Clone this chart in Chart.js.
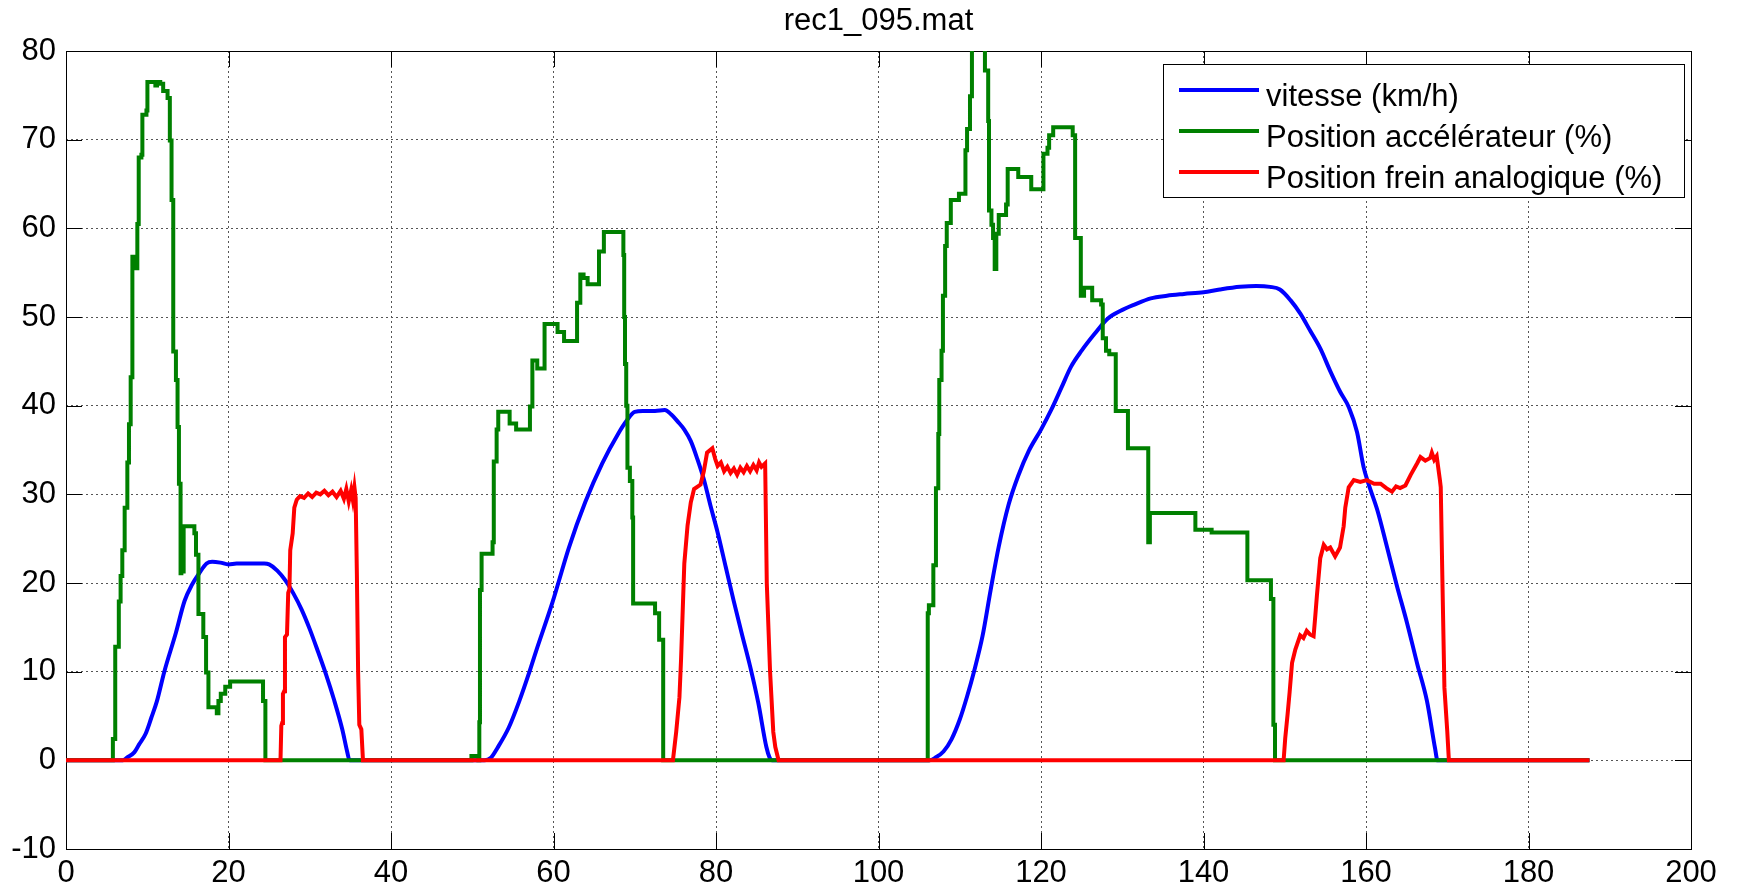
<!DOCTYPE html>
<html>
<head>
<meta charset="utf-8">
<title>rec1_095.mat</title>
<script src="https://cdn.jsdelivr.net/npm/chart.js@4.4.1/dist/chart.umd.min.js"></script>
<style>
  html, body { margin: 0; padding: 0; background: #fff; }
  canvas { display: block; }
</style>
</head>
<body>
<canvas id="chart" width="1737" height="892"></canvas>
<script>
// Chart text
const chartTitle = "rec1_095.mat";
const seriesLabels = ["vitesse (km/h)", "Position accélérateur (%)", "Position frein analogique (%)"];
const seriesColors = ["#0000ff", "#008000", "#ff0000"];

// Axis ticks
const xTicks = [0, 20, 40, 60, 80, 100, 120, 140, 160, 180, 200];
const yTicks = [-10, 0, 10, 20, 30, 40, 50, 60, 70, 80];

// vitesse (km/h)
const speedT = [0, 7, 7.5, 8.4, 9, 9.8, 10.5, 11.2, 12.1, 13.5, 14.6, 15.5, 16.4, 17.3, 18, 19, 20, 21, 22, 24.4,
  25, 26, 27, 28, 29, 30, 31, 32, 33, 34, 34.6, 34.9,
  51.5, 52.3, 53.1, 54.5, 55.8, 56.9, 57.85, 59.9, 61.9, 63.9, 66, 68, 69, 70, 71, 72.5, 73.7, 74.5, 75.3, 76.1,
  76.9, 77.7, 78.5, 79.3, 80.2, 81.2, 82.2, 83.2, 84.2, 85.2, 86.2, 86.6, 86.9,
  106.3, 107, 108, 109, 110, 110.9, 111.75, 112.8, 113.8, 114.8, 116, 117.2, 118.5, 120, 121.3, 122.5, 123.7,
  125, 126.6, 128.2, 129.8, 131.5, 133.5, 135.5, 137.6, 140, 142, 144.5, 146.5, 148.2, 149.4, 150.7, 151.9,
  153.1, 154.4, 155.6, 156.8, 157.9, 158.9, 159.7, 160.3, 161.4, 162.6, 163.8, 165.05, 166.3, 167.5, 168.5,
  168.8, 187.5];
const speedV = [0, 0, 0.3, 0.9, 1.8, 3, 4.8, 6.7, 10, 14.3, 18, 19.8, 21.1, 22.2, 22.4, 22.3, 22.1, 22.2, 22.2, 22.2,
  22.1, 21.4, 20.3, 18.8, 17, 14.8, 12.3, 9.7, 6.8, 3.5, 1, 0,
  0, 0.3, 1.4, 3.7, 6.7, 9.6, 12.3, 17.9, 24, 29.1, 33.5, 36.9, 38.3, 39.3, 39.4, 39.4, 39.5, 39, 38.2, 37.3,
  36, 34, 31.7, 28.8, 25.7, 21.8, 17.9, 14.2, 10.6, 6.5, 1.5, 0.3, 0,
  0, 0.3, 1, 2.4, 4.6, 7.2, 10, 14, 19.2, 24.1, 28.8, 32.1, 34.9, 37.3, 39.6, 42, 44.4,
  46.2, 48.1, 49.8, 50.7, 51.4, 52.1, 52.4, 52.6, 52.8, 53.1, 53.4, 53.5, 53.4, 53.1, 51.9, 50.4,
  48.5, 46.4, 43.9, 41.6, 39.8, 37, 33.1, 31.2, 28.2, 24, 19.7, 15.5, 10.9, 6.7, 1.35,
  0, 0];

// Position accélérateur (%) : time of each step and the value it steps to
const accelT = [0, 5.77, 6.06, 6.5, 6.72, 6.93, 7.22, 7.55, 7.75, 7.96, 8.17, 8.37, 8.78, 8.95, 9.28, 9.4, 9.9, 10.02,
  11, 11.2, 11.6, 11.96, 12.5, 12.78, 12.99, 13.2, 13.53, 13.73, 13.9, 14.1, 14.2, 14.3, 14.48, 15.8, 16, 16.3,
  16.9, 17.24, 17.53, 18.56, 18.76, 19.05, 19.6, 20.2, 24.25, 24.54,
  49.9, 50.75, 50.87, 50.95, 51.15, 52.5, 52.65, 53, 53.2, 54.6, 55.4, 57.1, 57.4, 58, 58.9, 60.5, 61.3, 62.9,
  63.3, 63.7, 64.2, 65.6, 66.2, 68.6, 68.7, 68.8, 68.95, 69.1, 69.4, 69.7, 69.8, 72.5, 73, 73.5,
  106.06, 106.2, 106.75, 107.07, 107.36, 107.48, 107.76, 107.93, 108.2, 108.4, 108.9, 109.9, 110.7, 110.9,
  111.26, 111.5, 113.1, 113.5, 113.6, 113.9, 114.1, 114.3, 114.5, 114.8, 115.7, 115.9, 117.2, 118.8, 120.3,
  120.8, 121, 121.5, 123.9, 124.2, 124.9, 125.3, 126.3, 127.4, 127.6, 128, 128.4, 129.2, 130.7, 133.2, 133.4,
  139, 141, 145.4, 148.3, 148.6, 148.8, 187.5];
const accelV = [0, 2.4, 12.8, 17.9, 20.8, 23.7, 28.5, 33.6, 37.9, 43.2, 56.8, 55.5, 60.5, 68, 68.3, 72.8, 73.3, 76.5,
  76.1, 76.5, 76.3, 75.5, 74.7, 69.9, 63.2, 46.1, 42.9, 37.6, 31.2, 21.1, 23.5, 21.3, 26.4, 25.6, 23.2, 16.5,
  13.9, 9.9, 6, 5.3, 6.7, 7.5, 8.3, 8.9, 6.7, 0,
  0.5, 0, 4.3, 19.2, 23.3, 24.6, 33.7, 37.3, 39.3, 38, 37.3, 39.9, 45.1, 44.2, 49.2, 48.3, 47.3, 51.6,
  54.8, 54.4, 53.7, 57.4, 59.6, 57, 50, 44.7, 40, 33, 31.5, 27.4, 17.7, 16.6, 13.6, 0,
  16.6, 17.5, 22, 30.7, 36.8, 42.9, 46.2, 52.4, 58, 60.6, 63.2, 63.9, 68.8, 71.2,
  74.9, 81, 77.8, 72.1, 62, 60.4, 58.9, 55.4, 59.4, 61.5, 62.7, 66.7, 65.8, 64.4, 68.4,
  69.1, 70.5, 71.4, 70.5, 58.9, 52.4, 53.3, 51.9, 51.4, 47.6, 46.2, 45.8, 39.4, 35.2, 24.6, 27.9,
  26, 25.7, 20.3, 18.2, 4, 0, 0];

// Position frein analogique (%)
const brakeT = [0, 26.4, 26.5, 26.6, 26.7, 26.85, 26.95, 27.2, 27.35, 27.5, 27.6, 27.9, 28.1, 28.4, 28.8, 29.3,
  29.8, 30.3, 30.8, 31.3, 31.8, 32.3, 32.8, 33.3, 33.8, 34.2, 34.5, 34.8, 35.1, 35.3, 35.5, 35.65, 35.8, 35.95,
  36.1, 36.35, 36.55,
  74.7, 75.1, 75.5, 75.7, 76.1, 76.5, 76.9, 77.3, 78.1, 78.5, 78.9, 79.55, 79.9, 80.2, 80.6, 81, 81.4, 81.8,
  82.2, 82.6, 83, 83.4, 83.8, 84.2, 84.6, 85, 85.3, 85.6, 86.05, 86.25, 86.65, 87.05, 87.3, 87.7,
  149.86, 150.06, 150.35, 150.6, 150.9, 151.3, 151.9, 152.3, 152.7, 153.1, 153.55, 153.76, 153.96, 154.37,
  154.8, 155.2, 155.6, 156.2, 156.8, 157.25, 157.45, 157.87, 158.5, 159.3, 160.1, 161, 161.8, 162.5, 163.2,
  163.7, 164.2, 164.85, 165.5, 166.3, 166.7, 167.3, 167.9, 168.1, 168.4, 168.7, 169.1, 169.2, 169.4, 169.65,
  170, 170.2, 187.5];
const brakeV = [0, 0, 3.9, 4.2, 7.5, 7.8, 13.9, 14.2, 18.9, 19.3, 23.7, 25.6, 28.5, 29.4, 29.8, 29.6,
  30.1, 29.7, 30.2, 30, 30.4, 29.9, 30.3, 29.7, 30.4, 29.5, 30.6, 29.2, 30.5, 29.4, 30.8, 29.6, 21, 10.1,
  4, 3.5, 0,
  0, 3.2, 7.1, 11.4, 22.2, 26.5, 29.1, 30.6, 31.1, 32.6, 34.7, 35.2, 34, 33.2, 33.6, 32.6, 33.1, 32.4,
  32.9, 32.2, 33, 32.5, 33.2, 32.6, 33.3, 32.7, 33.6, 33.1, 33.5, 20, 10.1, 3.2, 1.5, 0,
  0, 2.5, 5.2, 7.7, 11, 12.5, 14.1, 13.8, 14.6, 14.2, 14, 16.3, 18.6, 22.8,
  24.3, 23.8, 24, 23, 24, 26.4, 28.5, 30.8, 31.6, 31.4, 31.6, 31.2, 31.2, 30.7, 30.3,
  30.9, 30.7, 31, 32.2, 33.5, 34.2, 33.8, 34.1, 34.7, 33.9, 34.3, 31.6, 30.8, 20.5, 8.2,
  3.3, 0, 0];

const FONT = "'Liberation Sans', Arial, Helvetica, sans-serif";
const TICK_LEN = 16;
const LINE_W = 4;

const toPoints = (ts, vs) => ts.map((t, i) => ({ x: t, y: vs[i] }));

// MATLAB-like axes box with inward ticks on all four sides
const matlabAxesPlugin = {
  id: "matlabAxes",
  beforeDatasetsDraw: (chart) => {
    const { ctx, chartArea: a, scales } = chart;
    ctx.save();
    ctx.strokeStyle = "#000";
    ctx.lineWidth = 1;
    ctx.beginPath();
    xTicks.forEach((v) => {
      const px = Math.round(scales.x.getPixelForValue(v)) + 0.5;
      ctx.moveTo(px, a.bottom);
      ctx.lineTo(px, a.bottom - TICK_LEN);
      ctx.moveTo(px, a.top);
      ctx.lineTo(px, a.top + TICK_LEN);
    });
    yTicks.forEach((v) => {
      const py = Math.round(scales.y.getPixelForValue(v)) + 0.5;
      ctx.moveTo(a.left, py);
      ctx.lineTo(a.left + TICK_LEN, py);
      ctx.moveTo(a.right, py);
      ctx.lineTo(a.right - TICK_LEN, py);
    });
    ctx.stroke();
    ctx.strokeRect(Math.round(a.left) + 0.5, Math.round(a.top) + 0.5,
      Math.round(a.right - a.left), Math.round(a.bottom - a.top));
    ctx.restore();
  },
};

// Legend box in the upper right corner, drawn like MATLAB's
const matlabLegendPlugin = {
  id: "matlabLegend",
  afterDraw: (chart) => {
    const { ctx } = chart;
    const box = { x: 1163.5, y: 64.5, w: 521, h: 133 };
    const rowY = [90, 131, 172];
    ctx.save();
    ctx.fillStyle = "#fff";
    ctx.fillRect(box.x, box.y, box.w, box.h);
    ctx.strokeStyle = "#000";
    ctx.lineWidth = 1;
    ctx.strokeRect(box.x, box.y, box.w, box.h);
    ctx.font = `31px ${FONT}`;
    ctx.textAlign = "left";
    ctx.textBaseline = "alphabetic";
    chart.data.datasets.forEach((ds, i) => {
      const y = rowY[i];
      ctx.strokeStyle = ds.borderColor;
      ctx.lineWidth = LINE_W;
      ctx.beginPath();
      ctx.moveTo(1179, y);
      ctx.lineTo(1259, y);
      ctx.stroke();
      ctx.fillStyle = "#000";
      ctx.fillText(ds.label, 1266, y + 16);
    });
    ctx.restore();
  },
};

const tickFont = { family: FONT, size: 31, lineHeight: 1.2 };

const ctx = document.getElementById("chart");
new Chart(ctx, {
  type: "line",
  data: {
    datasets: [
      {
        label: seriesLabels[0],
        data: toPoints(speedT, speedV),
        borderColor: seriesColors[0],
        borderWidth: LINE_W,
        pointRadius: 0,
        cubicInterpolationMode: "monotone",
        order: 3,
        clip: 0,
      },
      {
        label: seriesLabels[1],
        data: toPoints(accelT, accelV),
        borderColor: seriesColors[1],
        borderWidth: LINE_W,
        pointRadius: 0,
        stepped: "before",
        order: 2,
        clip: 0,
      },
      {
        label: seriesLabels[2],
        data: toPoints(brakeT, brakeV),
        borderColor: seriesColors[2],
        borderWidth: LINE_W,
        pointRadius: 0,
        tension: 0,
        order: 1,
        clip: 0,
      },
    ],
  },
  options: {
    responsive: false,
    animation: false,
    events: [],
    layout: { padding: { left: 0, right: 46, top: 0, bottom: 0 } },
    scales: {
      x: {
        type: "linear",
        min: 0,
        max: 200,
        afterBuildTicks: (scale) => {
          scale.ticks = xTicks.map((v) => ({ value: v }));
        },
        afterFit: (scale) => {
          scale.height = 43;
        },
        ticks: { font: tickFont, color: "#000", padding: 6, maxRotation: 0, autoSkip: false },
        grid: { color: "#555", lineWidth: 1, drawTicks: false },
        border: { display: false, dash: [2, 3] },
      },
      y: {
        type: "linear",
        min: -10,
        max: 80,
        afterBuildTicks: (scale) => {
          scale.ticks = yTicks.map((v) => ({ value: v }));
        },
        afterFit: (scale) => {
          scale.width = 66;
        },
        ticks: { font: tickFont, color: "#000", padding: 10, autoSkip: false },
        grid: { color: "#555", lineWidth: 1, drawTicks: false },
        border: { display: false, dash: [2, 3] },
      },
    },
    plugins: {
      legend: { display: false },
      tooltip: { enabled: false },
      title: {
        display: true,
        text: chartTitle,
        fullSize: false,
        color: "#000",
        font: { family: FONT, size: 31, weight: "normal", lineHeight: 1.2 },
        padding: { top: 3, bottom: 10.8 },
      },
    },
  },
  plugins: [matlabAxesPlugin, matlabLegendPlugin],
});
</script>
</body>
</html>
